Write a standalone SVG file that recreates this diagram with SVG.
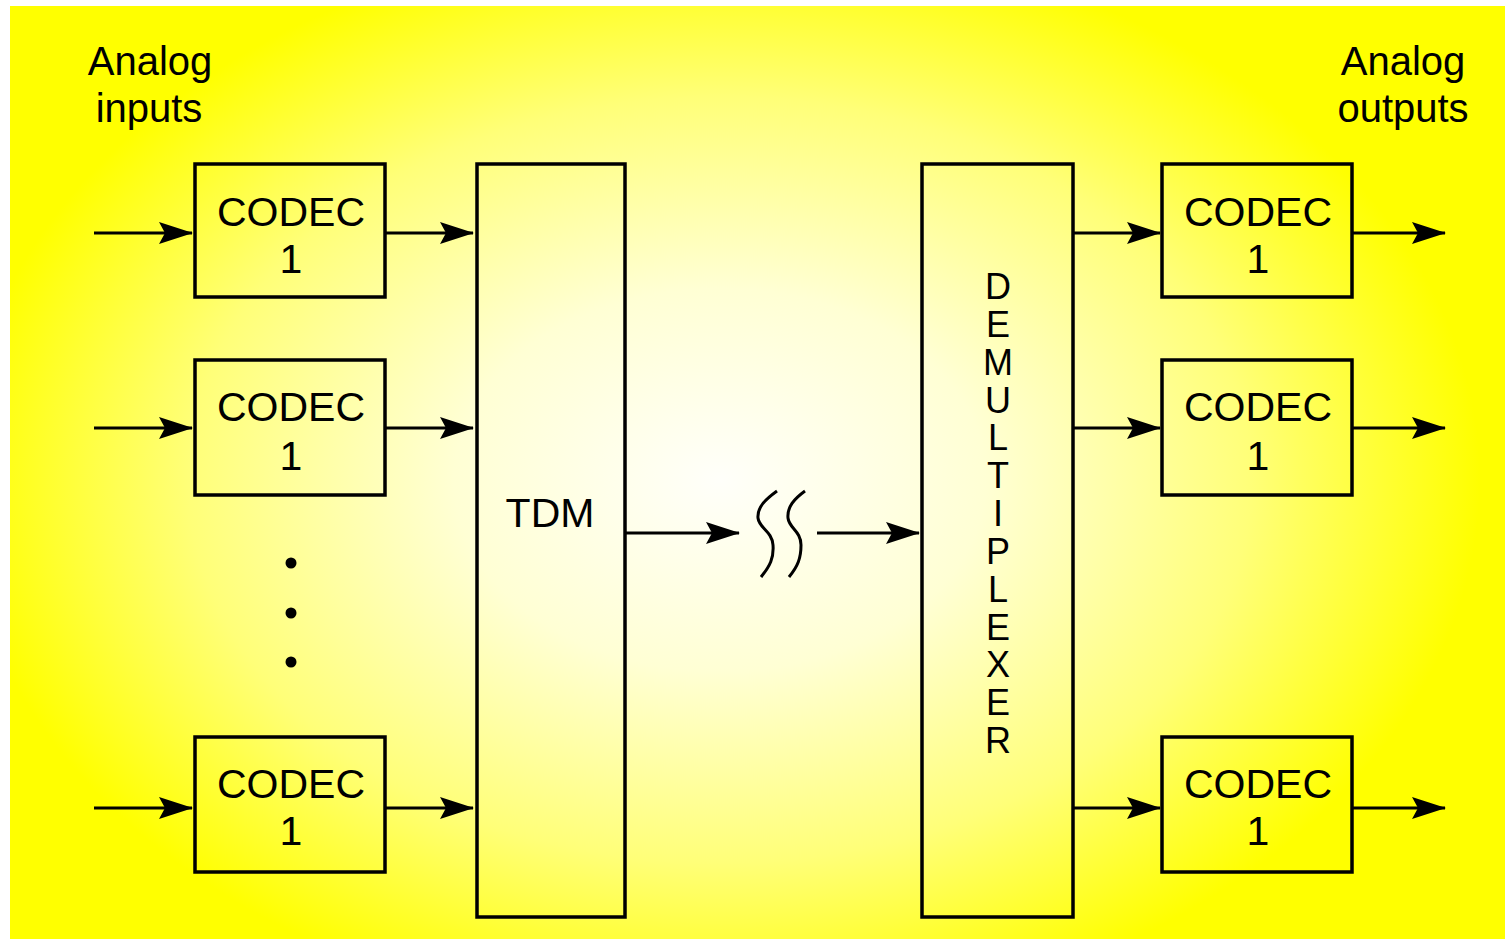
<svg xmlns="http://www.w3.org/2000/svg" width="1505" height="939" viewBox="0 0 1505 939">
<defs>
<radialGradient id="bg" gradientUnits="userSpaceOnUse" cx="720" cy="480" r="760" gradientTransform="translate(720 480) scale(1 0.72) translate(-720 -480)">
<stop offset="0" stop-color="#fffffa"/>
<stop offset="0.35" stop-color="#ffffd4"/>
<stop offset="0.7" stop-color="#ffff78"/>
<stop offset="1" stop-color="#ffff00"/>
</radialGradient>
<marker id="arr" markerUnits="userSpaceOnUse" viewBox="-36 -12 38 24" refX="0" refY="0" markerWidth="38" markerHeight="24" orient="auto">
<path d="M1,0 L-33,-11 L-27,0 L-33,11 Z" fill="#000"/>
</marker>
</defs>
<style>
.box{fill:none;stroke:#000;stroke-width:3.5}
.t{font-family:"Liberation Sans",Arial,sans-serif;fill:#000;text-anchor:middle}
.lbl{font-size:40px}
.c{font-size:41px}
.v{font-size:36px}
.ln{stroke:#000;stroke-width:3;fill:none}
</style>
<rect x="10" y="6" width="1495" height="933" fill="url(#bg)"/>
<g id="label-inputs">
<text class="t lbl" x="150" y="75">Analog</text>
<text class="t lbl" x="149" y="122">inputs</text>
</g>
<g id="label-outputs">
<text class="t lbl" x="1403" y="75">Analog</text>
<text class="t lbl" x="1403" y="122">outputs</text>
</g>
<g id="codec-in-1">
<rect class="box" x="195" y="164" width="190" height="133"/>
<text class="t c" x="291" y="226">CODEC</text>
<text class="t c" x="291" y="273">1</text>
</g>
<g id="codec-in-2">
<rect class="box" x="195" y="360" width="190" height="135"/>
<text class="t c" x="291" y="421">CODEC</text>
<text class="t c" x="291" y="470">1</text>
</g>
<g id="codec-in-3">
<rect class="box" x="195" y="737" width="190" height="135"/>
<text class="t c" x="291" y="798">CODEC</text>
<text class="t c" x="291" y="845">1</text>
</g>
<g id="dots">
<circle cx="291" cy="563" r="5.5"/>
<circle cx="291" cy="613" r="5.5"/>
<circle cx="291" cy="662" r="5.5"/>
</g>
<g id="tdm">
<rect class="box" x="477" y="164" width="148" height="753"/>
<text class="t c" x="550" y="527">TDM</text>
</g>
<g id="demux">
<rect class="box" x="922" y="164" width="151" height="753"/>
<text class="t v" x="998" y="299">D</text>
<text class="t v" x="998" y="337">E</text>
<text class="t v" x="998" y="375">M</text>
<text class="t v" x="998" y="413">U</text>
<text class="t v" x="998" y="450">L</text>
<text class="t v" x="998" y="488">T</text>
<text class="t v" x="998" y="526">I</text>
<text class="t v" x="998" y="564">P</text>
<text class="t v" x="998" y="602">L</text>
<text class="t v" x="998" y="640">E</text>
<text class="t v" x="998" y="677">X</text>
<text class="t v" x="998" y="715">E</text>
<text class="t v" x="998" y="753">R</text>
</g>
<g id="codec-out-1">
<rect class="box" x="1162" y="164" width="190" height="133"/>
<text class="t c" x="1258" y="226">CODEC</text>
<text class="t c" x="1258" y="273">1</text>
</g>
<g id="codec-out-2">
<rect class="box" x="1162" y="360" width="190" height="135"/>
<text class="t c" x="1258" y="421">CODEC</text>
<text class="t c" x="1258" y="470">1</text>
</g>
<g id="codec-out-3">
<rect class="box" x="1162" y="737" width="190" height="135"/>
<text class="t c" x="1258" y="798">CODEC</text>
<text class="t c" x="1258" y="845">1</text>
</g>
<g id="connectors">
<line class="ln" x1="94" y1="233" x2="192" y2="233" marker-end="url(#arr)"/>
<line class="ln" x1="94" y1="428" x2="192" y2="428" marker-end="url(#arr)"/>
<line class="ln" x1="94" y1="808" x2="192" y2="808" marker-end="url(#arr)"/>
<line class="ln" x1="386" y1="233" x2="473" y2="233" marker-end="url(#arr)"/>
<line class="ln" x1="386" y1="428" x2="473" y2="428" marker-end="url(#arr)"/>
<line class="ln" x1="386" y1="808" x2="473" y2="808" marker-end="url(#arr)"/>
<line class="ln" x1="626" y1="533" x2="739" y2="533" marker-end="url(#arr)"/>
<line class="ln" x1="817" y1="533" x2="919" y2="533" marker-end="url(#arr)"/>
<line class="ln" x1="1074" y1="233" x2="1160" y2="233" marker-end="url(#arr)"/>
<line class="ln" x1="1074" y1="428" x2="1160" y2="428" marker-end="url(#arr)"/>
<line class="ln" x1="1074" y1="808" x2="1160" y2="808" marker-end="url(#arr)"/>
<line class="ln" x1="1353" y1="233" x2="1445" y2="233" marker-end="url(#arr)"/>
<line class="ln" x1="1353" y1="428" x2="1445" y2="428" marker-end="url(#arr)"/>
<line class="ln" x1="1353" y1="808" x2="1445" y2="808" marker-end="url(#arr)"/>
<path class="ln" d="M777,491 C766,499 757,507 758,518 C759,528 772,531 773,545 C774,558 770,566 761,577"/>
<path class="ln" d="M805,491 C794,499 787,507 788,518 C789,528 801,531 801,545 C801,558 798,566 789,577"/>
</g>
</svg>
